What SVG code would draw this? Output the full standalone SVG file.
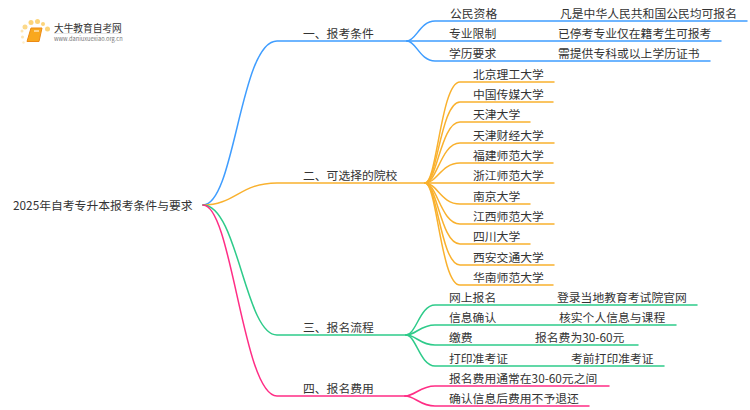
<svg xmlns="http://www.w3.org/2000/svg" width="750" height="410" viewBox="0 0 750 410">
<style>
text{font-family:"Noto Sans CJK SC","Noto Sans",sans-serif;font-size:11.8px;fill:#333}
.c{fill:none;stroke-width:1.5;stroke-linecap:round}
.b{stroke:#3f9dff}.o{stroke:#f9b12e}.g{stroke:#2ecb8a}.p{stroke:#ff2d85}
</style>
<rect width="750" height="410" fill="#fff"/>
<g id="logo">
<circle cx="25" cy="27" r="2.5" fill="#fcd98a"/><circle cx="31" cy="22.500" r="2.500" fill="#fcd47a"/><circle cx="37.500" cy="21.500" r="2.500" fill="#fcd47a"/><circle cx="43" cy="24" r="2" fill="#fcd47a"/><circle cx="47.500" cy="29" r="2.500" fill="#fcd47a"/><circle cx="22" cy="31" r="1.500" fill="#fde6b5"/><circle cx="22.500" cy="37" r="1.500" fill="#fde6b5"/><circle cx="23.500" cy="42.500" r="1.200" fill="#fdeecb"/>
<path d="M31 28H42L39 41.500H27Z" fill="#f9a81e" stroke="#ec8a15" stroke-width="1"/>
<path d="M34 31H39" stroke="#fff" stroke-width="1" fill="none"/>
<text x="54" y="31.500" style="font-size:9.700px">大牛教育自考网</text>
<path d="M54 33.500H122" stroke="#ddd" stroke-width="0.700"/>
<text x="54" y="40.500" style="font-size:5.700px;fill:#777">www.daniuxuexiao.org.cn</text>
</g>
<g id="connectors">
<path class="c b" d="M203 205C235 205 240 41 277 41H407"/>
<path class="c o" d="M203 205C235 205 240 183 277 183H425"/>
<path class="c g" d="M203 205C238 205 245 335 277 335H406"/>
<path class="c p" d="M203 205C232 205 243 396 277 396H405"/>
<path class="c b" d="M407 41C416 41 420 21 435 21H747"/>
<path class="c b" d="M407 41H721"/>
<path class="c b" d="M407 41C416 41 420 61 435 61H710"/>
<path class="c o" d="M425 183C437 183 441 82 460 82H554"/>
<path class="c o" d="M425 183C437 183 441 102 460 102H553"/>
<path class="c o" d="M425 183C437 183 441 122 460 122H530"/>
<path class="c o" d="M425 183C437 183 441 143 460 143H554"/>
<path class="c o" d="M425 183C437 183 441 163 460 163H553"/>
<path class="c o" d="M425 183H554"/>
<path class="c o" d="M425 183C437 183 441 204 460 204H530"/>
<path class="c o" d="M425 183C437 183 441 224 460 224H554"/>
<path class="c o" d="M425 183C437 183 441 244 460 244H530"/>
<path class="c o" d="M425 183C437 183 441 265 460 265H554"/>
<path class="c o" d="M425 183C437 183 441 285 460 285H553"/>
<path class="c g" d="M406 335C416 335 420 305 435 305H697"/>
<path class="c g" d="M406 335C416 335 420 325 435 325H676"/>
<path class="c g" d="M406 335C416 335 420 345 435 345H638"/>
<path class="c g" d="M406 335C416 335 420 366 435 366H664"/>
<path class="c p" d="M405 396C415 396 420 386 435 386H609"/>
<path class="c p" d="M405 396C415 396 420 406 435 406H589"/>
</g>
<g id="root"><text x="13" y="209.500">2025年自考专升本报考条件与要求</text></g>
<g id="branch-1"><text x="303" y="37.500">一、报考条件</text></g>
<g id="branch-2"><text x="303" y="179.500">二、可选择的院校</text></g>
<g id="branch-3"><text x="303" y="331.500">三、报名流程</text></g>
<g id="branch-4"><text x="303" y="392.500">四、报名费用</text></g>
<g id="cond-1"><text x="450" y="17.500">公民资格</text><text x="560" y="17.500">凡是中华人民共和国公民均可报名</text></g>
<g id="cond-2"><text x="449" y="37.500">专业限制</text><text x="558" y="37.500">已停考专业仅在籍考生可报考</text></g>
<g id="cond-3"><text x="449" y="57.500">学历要求</text><text x="558" y="57.500">需提供专科或以上学历证书</text></g>
<g id="school-1"><text x="473" y="78.500">北京理工大学</text></g>
<g id="school-2"><text x="473" y="98.500">中国传媒大学</text></g>
<g id="school-3"><text x="473" y="118.500">天津大学</text></g>
<g id="school-4"><text x="473" y="139.500">天津财经大学</text></g>
<g id="school-5"><text x="473" y="159.500">福建师范大学</text></g>
<g id="school-6"><text x="473" y="179.500">浙江师范大学</text></g>
<g id="school-7"><text x="473" y="200.500">南京大学</text></g>
<g id="school-8"><text x="473" y="220.500">江西师范大学</text></g>
<g id="school-9"><text x="473" y="240.500">四川大学</text></g>
<g id="school-10"><text x="473" y="261.500">西安交通大学</text></g>
<g id="school-11"><text x="473" y="281.500">华南师范大学</text></g>
<g id="proc-1"><text x="449" y="301.500">网上报名</text><text x="557" y="301.500">登录当地教育考试院官网</text></g>
<g id="proc-2"><text x="449" y="321.500">信息确认</text><text x="559" y="321.500">核实个人信息与课程</text></g>
<g id="proc-3"><text x="449" y="341.500">缴费</text><text x="535" y="341.500">报名费为30-60元</text></g>
<g id="proc-4"><text x="449" y="362.500">打印准考证</text><text x="571" y="362.500">考前打印准考证</text></g>
<g id="fee-1"><text x="449" y="382.500">报名费用通常在30-60元之间</text></g>
<g id="fee-2"><text x="449" y="402.500">确认信息后费用不予退还</text></g>
</svg>
